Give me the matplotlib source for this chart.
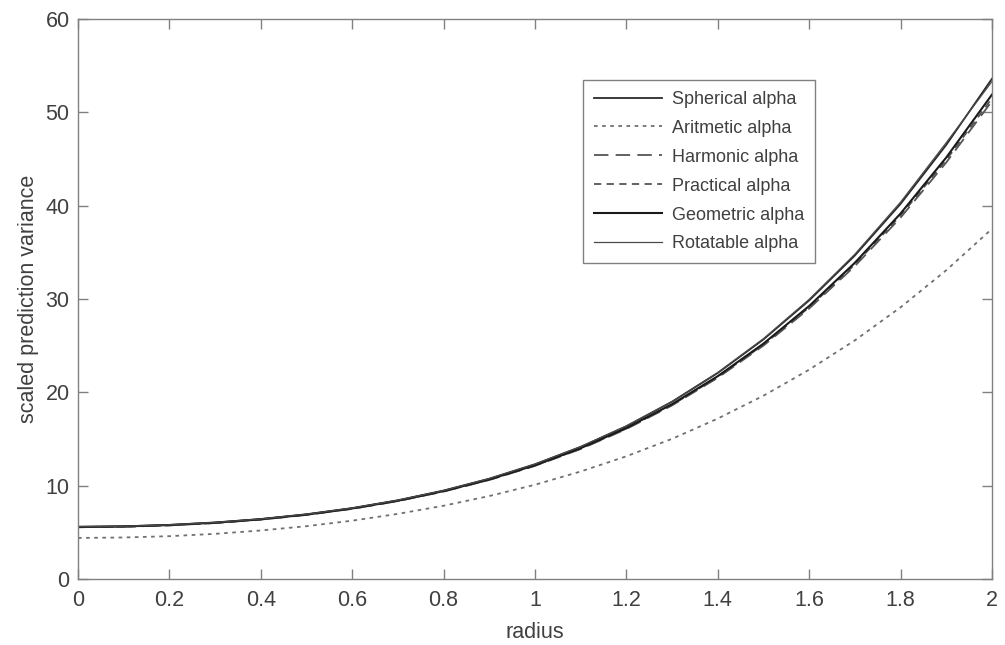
import matplotlib
matplotlib.use("Agg")
import matplotlib.pyplot as plt
import numpy as np

plt.rcParams['font.family'] = ['Liberation Sans', 'DejaVu Sans']

# radius grid and scaled prediction variance
radius = np.round(np.arange(0, 2.01, 0.1), 1)

spherical = [5.60, 5.65, 5.80, 6.06, 6.43, 6.94, 7.60, 8.44, 9.48, 10.75, 12.30,
             14.16, 16.37, 18.99, 22.07, 25.67, 29.85, 34.66, 40.19, 46.51, 53.60]
aritmetic = [4.40, 4.45, 4.59, 4.84, 5.20, 5.66, 6.25, 6.98, 7.85, 8.89, 10.10,
             11.52, 13.15, 15.02, 17.19, 19.64, 22.43, 25.57, 29.11, 33.08, 37.52]
harmonic = [5.55, 5.60, 5.75, 6.00, 6.37, 6.87, 7.52, 8.35, 9.37, 10.61, 12.12,
            13.93, 16.07, 18.60, 21.56, 25.01, 28.98, 33.53, 38.72, 44.63, 51.20]
practical = [5.55, 5.60, 5.75, 6.00, 6.37, 6.88, 7.53, 8.36, 9.39, 10.63, 12.15,
             13.97, 16.12, 18.66, 21.64, 25.11, 29.11, 33.70, 38.94, 44.90, 51.50]
geometric = [5.58, 5.63, 5.78, 6.03, 6.40, 6.90, 7.56, 8.39, 9.42, 10.67, 12.19,
             14.02, 16.18, 18.73, 21.73, 25.22, 29.25, 33.88, 39.16, 45.16, 51.90]
rotatable = [5.60, 5.65, 5.80, 6.06, 6.43, 6.94, 7.60, 8.44, 9.48, 10.76, 12.31,
             14.18, 16.40, 19.03, 22.13, 25.75, 29.96, 34.80, 40.38, 46.75, 53.30]

fig = plt.figure(figsize=(10.05, 6.45), dpi=100)
ax = fig.add_axes([0.0776, 0.1023, 0.9094, 0.8682])

ax.plot(radius, spherical, color='#2a2a2a', lw=1.3, ls='-', label='Spherical alpha')
ax.plot(radius, aritmetic, color='#707070', lw=1.3, ls=(0, (2, 2.5)), label='Aritmetic alpha')
ax.plot(radius, harmonic, color='#555555', lw=1.3, ls=(0, (8, 4)), label='Harmonic alpha')
ax.plot(radius, practical, color='#555555', lw=1.3, ls=(0, (4, 3)), label='Practical alpha')
ax.plot(radius, geometric, color='#1a1a1a', lw=1.5, ls='-', label='Geometric alpha')
ax.plot(radius, rotatable, color='#4a4a4a', lw=0.9, ls='-', label='Rotatable alpha')

ax.set_xlim(0, 2)
ax.set_ylim(0, 60)
ax.set_xticks(np.arange(0, 2.01, 0.2))
ax.set_xticklabels(['0', '0.2', '0.4', '0.6', '0.8', '1', '1.2', '1.4', '1.6', '1.8', '2'])
ax.set_yticks(np.arange(0, 61, 10))

for side in ax.spines.values():
    side.set_color('#808080')
    side.set_linewidth(1.0)
ax.tick_params(direction='in', top=True, right=True, length=7, width=1.0,
               color='#808080', labelcolor='#404040', labelsize=15.5)
ax.tick_params(axis='x', pad=8)
ax.tick_params(axis='y', pad=6)

ax.set_xlabel('radius', fontsize=15.5, color='#404040', labelpad=8)
ax.set_ylabel('scaled prediction variance', fontsize=15.5, color='#404040', labelpad=5)

leg = ax.legend(loc='upper left', bbox_to_anchor=(0.5525, 0.891), fontsize=13,
                handlelength=3.8, labelspacing=0.66, handletextpad=0.55,
                borderpad=0.6, borderaxespad=0, fancybox=False, framealpha=1)
leg.get_frame().set_edgecolor('#808080')
leg.get_frame().set_linewidth(1.0)
for t in leg.get_texts():
    t.set_color('#404040')

fig.savefig('out.png', dpi=100)
